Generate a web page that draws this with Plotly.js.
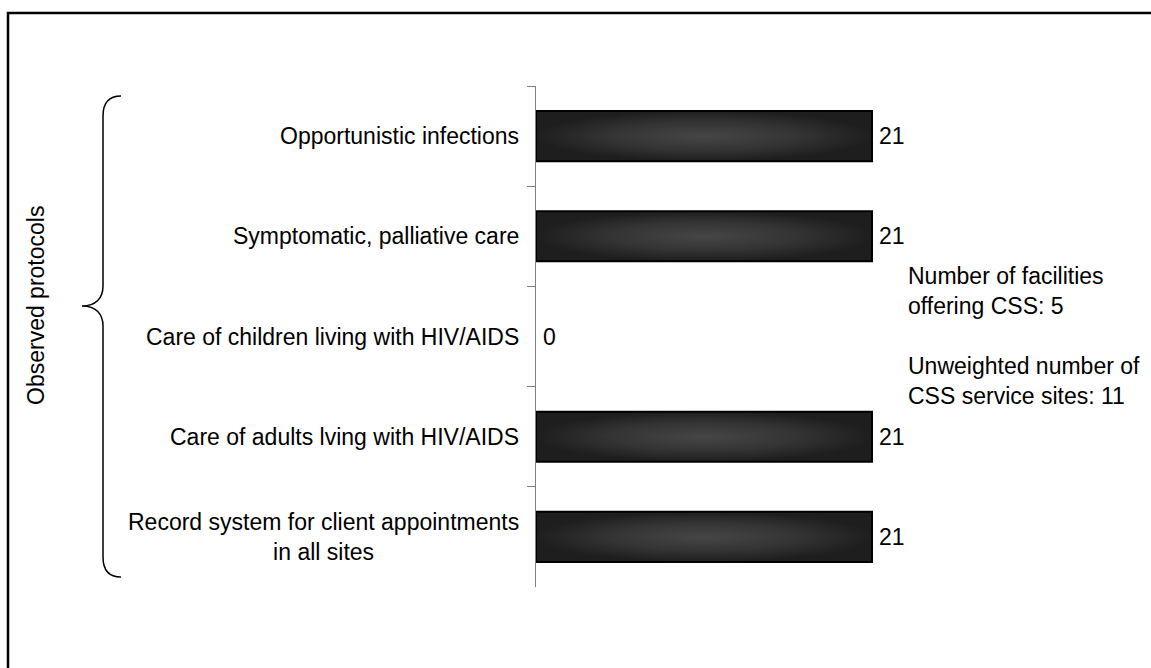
<!DOCTYPE html>
<html>
<head>
<meta charset="utf-8">
<script src="https://cdn.plot.ly/plotly-3.0.1.min.js"></script>
<style>
  html, body { margin: 0; padding: 0; background: #fff; }
  #chart { width: 1151px; height: 668px; }
</style>
</head>
<body>
<div id="chart"></div>
<script>
// ---- data ----
const categories = [
  "Opportunistic infections",
  "Symptomatic, palliative care",
  "Care of children living with HIV/AIDS",
  "Care of adults lving with HIV/AIDS",
  "Record system for client appointments<br>in all sites"
];
const values = [21, 21, 0, 21, 21];
const groupLabel = "Observed protocols";
const noteLines1 = ["Number of facilities", "offering CSS: 5"];
const noteLines2 = ["Unweighted number of", "CSS service sites: 11"];

// ---- layout helpers ----
const W = 1151, H = 668;
const px = x => x / W;
const py = y => 1 - y / H;
const FONT = "Liberation Sans, Arial, Helvetica, sans-serif";
const FS = 23;

const trace = {
  type: "bar",
  orientation: "h",
  y: categories,
  x: values,
  marker: {
    color: "#2b2b2b",
    line: { color: "#000000", width: values.map(v => v ? 2 : 0) }
  },
  hoverinfo: "skip",
  cliponaxis: false
};

const annotations = [];
// category labels
categories.forEach(c => {
  annotations.push({
    xref: "paper", yref: "y", x: px(521), y: c,
    xanchor: "right", yanchor: "middle", align: "center",
    text: c, showarrow: false,
    font: { family: FONT, size: FS, color: "#000" }
  });
});
// value labels
values.forEach((v, i) => {
  annotations.push({
    xref: "x", yref: "y", x: v, y: categories[i],
    xanchor: "left", yanchor: "middle", xshift: 5,
    text: String(v), showarrow: false,
    font: { family: FONT, size: FS, color: "#000" }
  });
});
// group label
annotations.push({
  xref: "paper", yref: "paper", x: px(36), y: py(306),
  xanchor: "center", yanchor: "middle", textangle: -90,
  text: groupLabel, showarrow: false,
  font: { family: FONT, size: FS, color: "#000" }
});
// notes
annotations.push({
  xref: "paper", yref: "paper", x: px(906), y: py(291),
  xanchor: "left", yanchor: "middle", align: "left",
  text: noteLines1.join("<br>"), showarrow: false,
  font: { family: FONT, size: FS, color: "#000" }
});
annotations.push({
  xref: "paper", yref: "paper", x: px(906), y: py(381),
  xanchor: "left", yanchor: "middle", align: "left",
  text: noteLines2.join("<br>"), showarrow: false,
  font: { family: FONT, size: FS, color: "#000" }
});

// brace path in pixel coords -> paper
function P(x, y) { return px(x).toFixed(5) + "," + py(y).toFixed(5); }
const bracePath =
  "M " + P(121, 96) +
  " C " + P(110, 96) + " " + P(103, 102) + " " + P(103, 116) +
  " L " + P(103, 286) +
  " C " + P(103, 298) + " " + P(96, 306) + " " + P(82, 306) +
  " C " + P(96, 306) + " " + P(103, 314) + " " + P(103, 326) +
  " L " + P(103, 557) +
  " C " + P(103, 571) + " " + P(110, 577) + " " + P(121, 577);

const layout = {
  width: W, height: H,
  margin: { l: 0, r: 0, t: 0, b: 0 },
  paper_bgcolor: "#ffffff",
  plot_bgcolor: "rgba(0,0,0,0)",
  showlegend: false,
  bargap: 0.5,
  font: { family: FONT, size: FS, color: "#000" },
  xaxis: {
    domain: [px(536), px(1016)],
    range: [0, 30],
    visible: false,
    fixedrange: true
  },
  yaxis: {
    domain: [py(587), py(86)],
    type: "category",
    autorange: "reversed",
    showticklabels: false,
    ticks: "outside",
    tickson: "boundaries",
    ticklen: 8,
    tickcolor: "#808080",
    tickwidth: 1,
    showline: true,
    linecolor: "#808080",
    linewidth: 1,
    showgrid: false,
    zeroline: false,
    fixedrange: true
  },
  annotations: annotations,
  shapes: [
    {
      type: "rect", xref: "paper", yref: "paper",
      x0: px(8), y0: py(13), x1: 1.02, y1: -0.03,
      line: { color: "#000", width: 2.5 }, fillcolor: "rgba(0,0,0,0)"
    },
    {
      type: "path", xref: "paper", yref: "paper",
      path: bracePath,
      line: { color: "#000", width: 1.5 }
    }
  ]
};

Plotly.newPlot("chart", [trace], layout, { staticPlot: true, displayModeBar: false }).then(gd => {
  const svg = gd.querySelector(".main-svg");
  const ns = "http://www.w3.org/2000/svg";
  let defs = svg.querySelector("defs");
  if (!defs) { defs = document.createElementNS(ns, "defs"); svg.insertBefore(defs, svg.firstChild); }
  const g = document.createElementNS(ns, "radialGradient");
  g.setAttribute("id", "barGrad");
  g.setAttribute("cx", "0.5"); g.setAttribute("cy", "0.5"); g.setAttribute("r", "0.5");
  [["0%", "#464646"], ["55%", "#343434"], ["100%", "#1e1e1e"]].forEach(([o, c]) => {
    const s = document.createElementNS(ns, "stop");
    s.setAttribute("offset", o); s.setAttribute("stop-color", c);
    g.appendChild(s);
  });
  defs.appendChild(g);
  gd.querySelectorAll(".barlayer .point path").forEach(p => {
    p.style.fill = "url(#barGrad)";
  });
});
</script>
</body>
</html>
